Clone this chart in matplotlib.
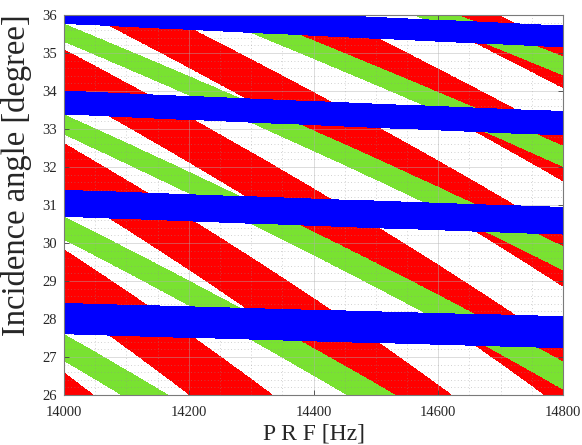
import numpy as np
import matplotlib
matplotlib.use("Agg")
import matplotlib.pyplot as plt
from matplotlib.ticker import MultipleLocator

plt.rcParams['font.family'] = ['Liberation Serif', 'DejaVu Serif']

# Geometry of the spaceborne platform
EARTH_RADIUS_KM = 6371.0
LIGHT_SPEED_KM_S = 299792.458
orbit_height_km = 334.0

# Axis ranges and ticks
prf_limits_hz = [14000, 14800]
angle_limits_deg = [26, 36]
prf_ticks = [14000, 14200, 14400, 14600, 14800]
angle_ticks = [26, 27, 28, 29, 30, 31, 32, 33, 34, 35, 36]

# Blocking windows: delay of the window start relative to the pulse train
# and window length, both in microseconds; drawn in this order
region_names = ["transmit", "interference", "nadir"]
window_start_us = [-1056.5, -303.2, 2354.5]
window_length_us = [33.0, 15.0, 18.0]
region_colors = [(1.0, 0.0, 0.0), (0.478, 0.890, 0.196), (0.0, 0.0, 1.0)]
# the nadir band is painted over the grid
region_on_top = [False, False, True]


def echo_delay_s(incidence_deg):
    """Two-way delay of the echo from a point seen at the given incidence angle."""
    s = np.sin(np.radians(incidence_deg))
    co = np.cos(np.radians(incidence_deg))
    r = EARTH_RADIUS_KM + orbit_height_km
    slant = np.sqrt(r ** 2 - (EARTH_RADIUS_KM * s) ** 2) - EARTH_RADIUS_KM * co
    return 2.0 * slant / LIGHT_SPEED_KM_S


prf = np.linspace(prf_limits_hz[0], prf_limits_hz[1], 2000)
angle = np.linspace(angle_limits_deg[0], angle_limits_deg[1], 1600)
PRF, ANG = np.meshgrid(prf, angle)
DELAY = echo_delay_s(ANG)

base = np.ones(PRF.shape + (4,))
top = np.zeros(PRF.shape + (4,))
for start, length, color, on_top in zip(window_start_us, window_length_us,
                                        region_colors, region_on_top):
    phase = np.mod((DELAY - start * 1e-6) * PRF, 1.0)
    blocked = phase < length * 1e-6 * PRF
    layer = top if on_top else base
    layer[blocked] = color + (1.0,)

fig = plt.figure(figsize=(5.82, 4.45), dpi=100)
ax = fig.add_axes([0.110, 0.1124, 0.8574, 0.8539])
extent = [prf_limits_hz[0], prf_limits_hz[1], angle_limits_deg[0], angle_limits_deg[1]]
ax.imshow(base, extent=extent, origin='lower', aspect='auto',
          interpolation='nearest', zorder=0)
ax.imshow(top, extent=extent, origin='lower', aspect='auto',
          interpolation='nearest', zorder=3)

ax.set_xlim(prf_limits_hz)
ax.set_ylim(angle_limits_deg)
ax.set_xticks(prf_ticks)
ax.set_yticks(angle_ticks)
ax.xaxis.set_minor_locator(MultipleLocator(50))
ax.yaxis.set_minor_locator(MultipleLocator(0.2))

ax.set_axisbelow(False)
ax.grid(which='major', color='#b0b0b0', linestyle='-', linewidth=0.6, alpha=0.5)
ax.grid(which='minor', color='#909090', linestyle=(0, (1, 3)), linewidth=0.6, alpha=0.55)

ax.tick_params(which='major', direction='in', length=3.5, width=0.6,
               top=True, right=True, colors='#404040', labelsize=10.5,
               labelcolor='#262626')
ax.tick_params(axis='x', which='major', pad=8)
ax.tick_params(axis='y', which='major', pad=5)
ax.tick_params(which='minor', length=0)
for sp in ax.spines.values():
    sp.set_color('#7a7a7a')
    sp.set_linewidth(0.8)
    sp.set_zorder(4)

ax.set_xlabel('P R F [Hz]', fontsize=17, color='#262626', labelpad=3)
ax.set_ylabel('Incidence angle [degree]', fontsize=23.5, color='#262626')
ax.yaxis.set_label_coords(-0.064, 0.579)

fig.savefig("out.png", dpi=100)
